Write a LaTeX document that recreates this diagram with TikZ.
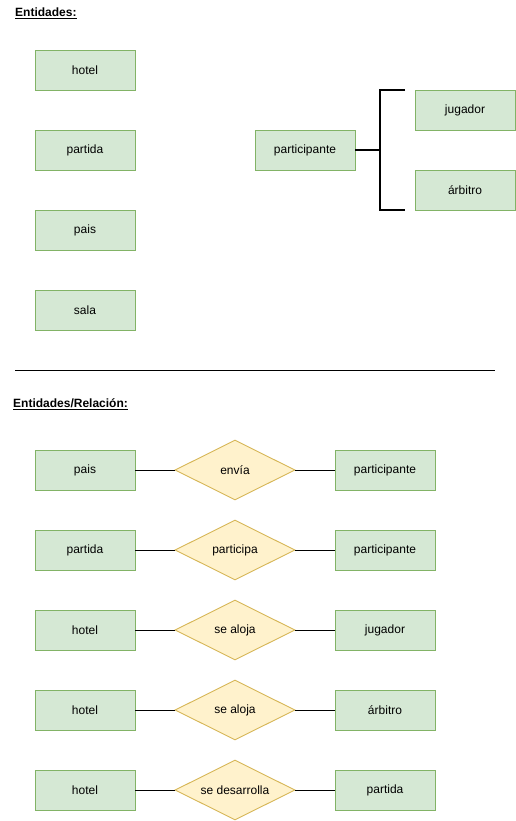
\documentclass[tikz,border=0pt]{standalone}
\usepackage{fontspec}
\setmainfont{Liberation Sans}
\usetikzlibrary{shapes.geometric}
\definecolor{entfill}{HTML}{D5E8D4}
\definecolor{entdraw}{HTML}{82B366}
\definecolor{relfill}{HTML}{FFF2CC}
\definecolor{reldraw}{HTML}{D6B656}
\tikzset{
  ent/.style={draw=entdraw, fill=entfill, line width=0.9pt, minimum width=100pt, minimum height=40pt, inner sep=0pt, font=\fontsize{12}{14}\selectfont},
  rel/.style={draw=reldraw, fill=relfill, line width=0.9pt, diamond, aspect=2, minimum width=120pt, minimum height=60pt, inner sep=0pt, font=\fontsize{12}{14}\selectfont},
  link/.style={line width=0.9pt, black},
  brk/.style={line width=1.8pt, black},
  ttl/.style={anchor=west, inner sep=0pt, font=\fontsize{12}{14}\selectfont\bfseries}
}
\begin{document}
\begin{tikzpicture}[x=1pt,y=-1pt]
\useasboundingbox (0,0) rectangle (516,821);
\node[ttl] (t1) at (15,13) {\underline{Entidades:}};
\node[ent] (hotel) at (85,70) {hotel};
\node[ent] (partida) at (85,150) {partida};
\node[ent] (pais) at (85,230) {pais};
\node[ent] (sala) at (85,310) {sala};
\node[ent] (part) at (305,150) {participante};
\node[ent] (jug) at (465,110) {jugador};
\node[ent] (arb) at (465,190) {árbitro};
\coordinate (bm) at (380,150);
\coordinate (bt) at (380,90);
\coordinate (bb) at (380,210);
\coordinate (btr) at (405,90);
\coordinate (bbr) at (405,210);
\draw[brk] (part.east) -- (bm);
\draw[brk] (btr) -- (bt) -- (bb) -- (bbr);
\coordinate (s1) at (15,370);
\coordinate (s2) at (495,370);
\draw[link] (s1) -- (s2);
\node[ttl] (t2) at (13,404) {\underline{Entidades/Relación:}};
\foreach \i/\l/\r/\m/\y in {1/pais/participante/envía/470, 2/partida/participante/participa/550, 3/hotel/jugador/se aloja/630, 4/hotel/árbitro/se aloja/710, 5/hotel/partida/se desarrolla/790}{
  \node[ent] (L\i) at (85,\y) {\l};
  \node[rel] (D\i) at (235,\y) {\m};
  \node[ent] (R\i) at (385,\y) {\r};
  \draw[link] (L\i.east) -- (D\i.west);
  \draw[link] (D\i.east) -- (R\i.west);
}
\end{tikzpicture}
\end{document}
